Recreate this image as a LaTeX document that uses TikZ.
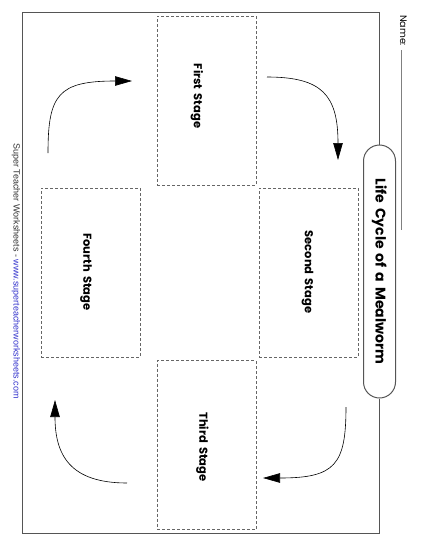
\documentclass[tikz,border=0pt]{standalone}
\usepackage{fontspec}
\setmainfont{Poppins}[WordSpace=1.7]
\newfontfamily\footfont{Liberation Sans}
\usetikzlibrary{arrows.meta}
\definecolor{framegray}{HTML}{555555}
\definecolor{dashgray}{HTML}{666666}
\definecolor{linkblue}{HTML}{3333CC}
\begin{document}
\begin{tikzpicture}[x=1pt,y=-1pt,
  stagebox/.style={draw=dashgray, dash pattern=on 3pt off 2pt, line width=0.6pt,
    minimum width=99pt, minimum height=169pt, inner sep=0pt},
  stagelabel/.style={rotate=-90, font=\bfseries\fontsize{11.5}{13}\selectfont, inner sep=0pt},
  arr/.style={line width=0.6pt, -{Triangle[length=17pt,width=9.5pt]}},
  framestyle/.style={draw=framegray, line width=1pt},
  pill/.style={framestyle, fill=white, rounded corners=16pt, rotate=-90,
    minimum width=253pt, minimum height=32pt, inner sep=0pt,
    font=\bfseries\fontsize{14}{16}\selectfont}
]
\useasboundingbox (0,0) rectangle (425,550);
% frame corners
\coordinate (tl) at (22,12);
\coordinate (bl) at (22,533);
% title pill
\node[pill] (title) at (379.5,271.5) {Life Cycle of a Mealworm};
\draw[framestyle] (title.west) -- (title.west |- tl) -- (tl) -- (bl) -- (title.east |- bl) -- (title.east);
% stage boxes
\node[stagebox] (first) at (206.5,100.5) {};
\node[stagebox] (second) at (308.5,272.5) {};
\node[stagebox] (third) at (206.5,445) {};
\node[stagebox] (fourth) at (90.5,272.5) {};
\node[stagelabel] (firstlbl) at (197,96) {First Stage};
\node[stagelabel] (secondlbl) at (307.5,272) {Second Stage};
\node[stagelabel] (thirdlbl) at (202.5,447) {Third Stage};
\node[stagelabel] (fourthlbl) at (86,272) {Fourth Stage};
% arrows
\coordinate (a1s) at (48,153); \coordinate (a1e) at (132,81);
\coordinate (a2s) at (267,77); \coordinate (a2e) at (338,160);
\coordinate (a3s) at (346,407); \coordinate (a3e) at (263,478);
\coordinate (a4s) at (127,483); \coordinate (a4e) at (55,400);
\draw[arr] (a1s) .. controls (48,95) and (58,81) .. (a1e);
\draw[arr] (a2s) .. controls (322,77) and (338,95) .. (a2e);
\draw[arr] (a3s) .. controls (346,465) and (335,478) .. (a3e);
\draw[arr] (a4s) .. controls (70,483) and (55,455) .. (a4e);
% name
\node[rotate=-90, anchor=west, font=\fontsize{9.5}{11}\selectfont, inner sep=0pt] (name) at (403.5,15) {Name:};
\coordinate (namestart) at (401,50);
\coordinate (nameend) at (401,230);
\draw[draw=gray, line width=0.7pt] (namestart) -- (nameend);
% footer
\node[rotate=-90, anchor=west, font=\footfont\fontsize{9}{10}\selectfont, inner sep=0pt, text=black!80] (footer) at (16,143)
  {Super Teacher Worksheets - \textcolor{linkblue}{www.superteacherworksheets.com}};
\end{tikzpicture}
\end{document}
